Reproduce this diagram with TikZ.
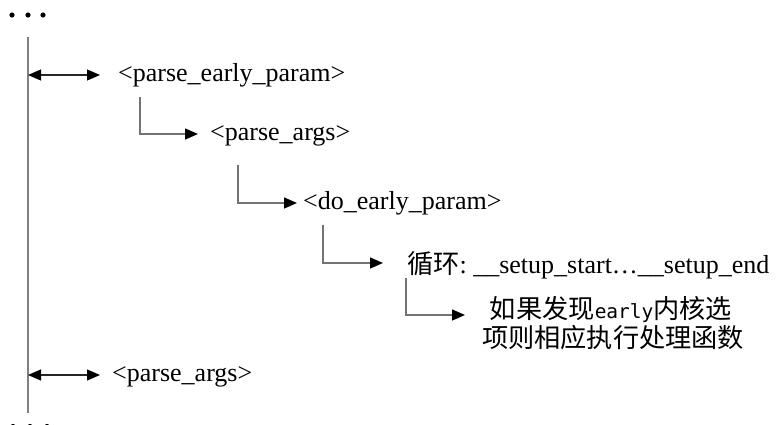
\documentclass[tikz,border=0pt]{standalone}
\usepackage{fontspec}
\setmainfont{Liberation Serif}
\newfontfamily\cjk{Noto Sans CJK SC}
\newfontfamily\monof{DejaVu Sans Mono}
\usetikzlibrary{arrows.meta}
\begin{document}
\begin{tikzpicture}[x=1pt,y=-1pt,
  lbl/.style={anchor=base west, inner sep=0pt, font=\fontsize{26}{30}\selectfont},
  cjklbl/.style={anchor=base, inner sep=0pt, font=\cjk\fontsize{26.2}{29}\selectfont},
  link/.style={line width=1.5pt, draw=black!55, -{Triangle[length=13pt,width=11pt,color=black]}},
  bi/.style={line width=1.1pt, draw=black!85, {Triangle[length=13pt,width=11pt,color=black]}-{Triangle[length=13pt,width=11pt,color=black]}},
  spine/.style={line width=2pt, draw=black!50},
  dot/.style={circle, fill=black, inner sep=0pt, minimum size=5.2pt}]
\useasboundingbox (0,0) rectangle (777,425);
\fill[white] (0,0) rectangle (777,425);
% dots
\node[dot] (d1) at (12,15) {};
\node[dot] (d2) at (28,15) {};
\node[dot] (d3) at (43,15) {};
\node[dot] (e1) at (13,426.5) {};
\node[dot] (e2) at (30,426.5) {};
\node[dot] (e3) at (47,426.5) {};
% spine
\coordinate (top) at (28,37);
\coordinate (bot) at (28,413);
\draw[spine] (top) -- (bot);
% texts
\node[lbl] (p1) at (118,81.5) {<parse\_early\_param>};
\node[lbl] (p2) at (210,140.5) {<parse\_args>};
\node[lbl] (p3) at (303,209.5) {<do\_early\_param>};
\node[lbl] (p4) at (407,273) {{\cjk\fontsize{26.2}{29}\selectfont 循环}:\ \_\_setup\_start\ldots\_\_setup\_end};
\node[cjklbl] (q1) at (611,318) {如果发现{\monof\fontsize{19.5}{29}\selectfont early}内核选};
\node[cjklbl] (q2) at (613,347) {项则相应执行处理函数};
\node[lbl] (p6) at (112,381.5) {<parse\_args>};
% connector points
\coordinate (s1) at (28,75);   \coordinate (t1) at (100,75);
\coordinate (s6) at (28,375);  \coordinate (t6) at (100,375);
\coordinate (c2) at (140,97);  \coordinate (t2) at (198,134);
\coordinate (c3) at (238,165); \coordinate (t3) at (297,203);
\coordinate (c4) at (323,225); \coordinate (t4) at (383,263);
\coordinate (c5) at (406,278); \coordinate (t5) at (465,315);
% connectors
\draw[bi] (s1) -- (t1);
\draw[bi] (s6) -- (t6);
\draw[link] (c2) |- (t2);
\draw[link] (c3) |- (t3);
\draw[link] (c4) |- (t4);
\draw[link] (c5) |- (t5);
\end{tikzpicture}
\end{document}
